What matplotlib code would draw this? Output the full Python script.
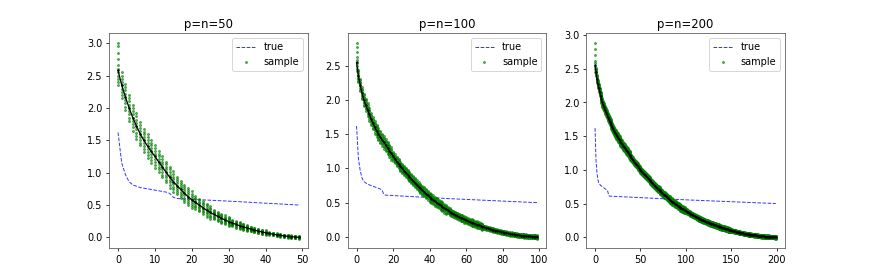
import numpy as np
import matplotlib
matplotlib.use("Agg")
import matplotlib.pyplot as plt

sizes = [50, 100, 200]
titles = ["p=n=50", "p=n=100", "p=n=200"]

# true eigenvalues: read at a few indices (the line is straight between them)
true_head = [1.62, 1.15, 0.97, 0.86, 0.81, 0.79, 0.77, 0.76, 0.75, 0.74,
             0.73, 0.72, 0.71, 0.70, 0.68, 0.62]
true_tail_x = {50: [16, 30, 49], 100: [16, 50, 99], 200: [16, 100, 199]}
true_tail_y = {50: [0.60, 0.56, 0.50], 100: [0.61, 0.56, 0.50],
               200: [0.61, 0.555, 0.50]}

# mean of the sample eigenvalues
mean_50 = [2.58, 2.35, 2.17, 2.00, 1.85, 1.72, 1.60, 1.50, 1.41, 1.33,
           1.25, 1.17, 1.09, 1.01, 0.93, 0.86, 0.80, 0.74, 0.68, 0.63,
           0.58, 0.54, 0.50, 0.46, 0.42, 0.385, 0.355, 0.325, 0.295, 0.27,
           0.245, 0.222, 0.20, 0.18, 0.162, 0.145, 0.128, 0.112, 0.097, 0.084,
           0.072, 0.06, 0.05, 0.04, 0.032, 0.024, 0.017, 0.011, 0.006, 0.002]

mean_100 = [2.55, 2.35, 2.22, 2.10, 2.00, 1.93, 1.86, 1.79, 1.72, 1.66,
            1.60, 1.55, 1.50, 1.46, 1.42, 1.38, 1.34, 1.30, 1.26, 1.22,
            1.18, 1.14, 1.10, 1.07, 1.03, 1.00, 0.97, 0.94, 0.91, 0.88,
            0.85, 0.82, 0.79, 0.76, 0.73, 0.71, 0.68, 0.66, 0.63, 0.61,
            0.58, 0.56, 0.54, 0.52, 0.50, 0.48, 0.46, 0.44, 0.42, 0.405,
            0.39, 0.37, 0.355, 0.34, 0.325, 0.31, 0.295, 0.28, 0.27, 0.255,
            0.245, 0.23, 0.22, 0.21, 0.20, 0.19, 0.18, 0.17, 0.16, 0.15,
            0.14, 0.132, 0.124, 0.116, 0.108, 0.10, 0.093, 0.086, 0.079, 0.073,
            0.067, 0.061, 0.055, 0.05, 0.045, 0.04, 0.036, 0.032, 0.028, 0.024,
            0.02, 0.017, 0.014, 0.011, 0.009, 0.007, 0.005, 0.003, 0.002, 0.001]

mean_200 = [2.55, 2.45, 2.35, 2.28, 2.22, 2.16, 2.10, 2.05, 2.00, 1.965,
            1.93, 1.895, 1.86, 1.825, 1.79, 1.755, 1.72, 1.69, 1.66, 1.63,
            1.60, 1.575, 1.55, 1.525, 1.50, 1.48, 1.46, 1.44, 1.42, 1.40,
            1.38, 1.36, 1.34, 1.32, 1.30, 1.28, 1.26, 1.24, 1.22, 1.20,
            1.18, 1.16, 1.14, 1.12, 1.10, 1.085, 1.07, 1.05, 1.03, 1.015,
            1.00, 0.985, 0.97, 0.955, 0.94, 0.925, 0.91, 0.895, 0.88, 0.865,
            0.85, 0.835, 0.82, 0.805, 0.79, 0.775, 0.76, 0.745, 0.73, 0.72,
            0.71, 0.695, 0.68, 0.67, 0.66, 0.645, 0.63, 0.62, 0.61, 0.595,
            0.58, 0.57, 0.56, 0.55, 0.54, 0.53, 0.52, 0.51, 0.50, 0.49,
            0.48, 0.47, 0.46, 0.45, 0.44, 0.43, 0.42, 0.413, 0.405, 0.398,
            0.39, 0.38, 0.37, 0.362, 0.355, 0.348, 0.34, 0.332, 0.325, 0.318,
            0.31, 0.302, 0.295, 0.288, 0.28, 0.275, 0.27, 0.262, 0.255, 0.25,
            0.245, 0.238, 0.23, 0.225, 0.22, 0.215, 0.21, 0.205, 0.20, 0.195,
            0.19, 0.185, 0.18, 0.175, 0.17, 0.165, 0.16, 0.155, 0.15, 0.145,
            0.14, 0.136, 0.132, 0.128, 0.124, 0.12, 0.116, 0.112, 0.108, 0.104,
            0.10, 0.097, 0.093, 0.09, 0.086, 0.083, 0.079, 0.076, 0.073, 0.07,
            0.067, 0.064, 0.061, 0.058, 0.055, 0.052, 0.05, 0.047, 0.045, 0.042,
            0.04, 0.038, 0.036, 0.034, 0.032, 0.03, 0.028, 0.026, 0.024, 0.022,
            0.02, 0.018, 0.017, 0.015, 0.014, 0.012, 0.011, 0.01, 0.009, 0.008,
            0.007, 0.006, 0.005, 0.004, 0.003, 0.0025, 0.002, 0.0015, 0.001, 0.0005]

# half-width of the sample scatter around the mean, per index
spread_50 = ([0.0, 0.2, 0.2, 0.2, 0.2, 0.2] + [0.18] * 5 + [0.16] * 5
             + [0.13] * 5 + [0.1] * 5 + [0.07] * 5 + [0.05] * 5
             + [0.035] * 5 + [0.02] * 9)
spread_100 = ([0.0] + [0.09] * 19 + [0.065] * 30 + [0.045] * 20 + [0.025] * 30)
spread_200 = ([0.0] + [0.06] * 39 + [0.045] * 60 + [0.032] * 50 + [0.02] * 50)

# samples of the largest eigenvalue (index 0)
first_50 = [2.36, 2.40, 2.45, 2.50, 2.55, 2.60, 2.66, 2.75, 2.85, 2.95, 3.0]
first_100 = [2.42, 2.46, 2.50, 2.54, 2.58, 2.63, 2.70, 2.77, 2.83]
first_200 = [2.46, 2.50, 2.54, 2.58, 2.62, 2.70, 2.80, 2.88]

means = {50: mean_50, 100: mean_100, 200: mean_200}
spreads = {50: spread_50, 100: spread_100, 200: spread_200}
firsts = {50: first_50, 100: first_100, 200: first_200}
offsets = [-1.0, -0.75, -0.5, -0.25, 0.0, 0.25, 0.5, 0.75, 1.0]

fig, axes = plt.subplots(1, 3, figsize=(12.5, 4), dpi=69.76)

for ax, p, title in zip(axes, sizes, titles):
    m = np.array(means[p])
    s = np.array(spreads[p])
    idx = np.arange(p)

    tx = list(range(len(true_head))) + true_tail_x[p]
    ty = true_head + true_tail_y[p]
    ax.plot(tx, ty, color="blue", ls="--", lw=1, alpha=0.8, label="true")

    sx = [np.zeros(len(firsts[p]))]
    sy = [np.array(firsts[p])]
    for o in offsets:
        sx.append(idx[1:])
        sy.append(m[1:] + o * s[1:])
    ax.plot(np.concatenate(sx), np.concatenate(sy), ".", color="green",
            ms=4, alpha=0.6, label="sample")

    ax.plot(idx, m, "k.-", ms=2.5, lw=1.3)
    ax.set_title(title)
    ax.legend(loc="upper right")
    for sp in ax.spines.values():
        sp.set_color("#555555")

axes[2].set_xticks([0, 50, 100, 150, 200])

plt.savefig("out.png")
